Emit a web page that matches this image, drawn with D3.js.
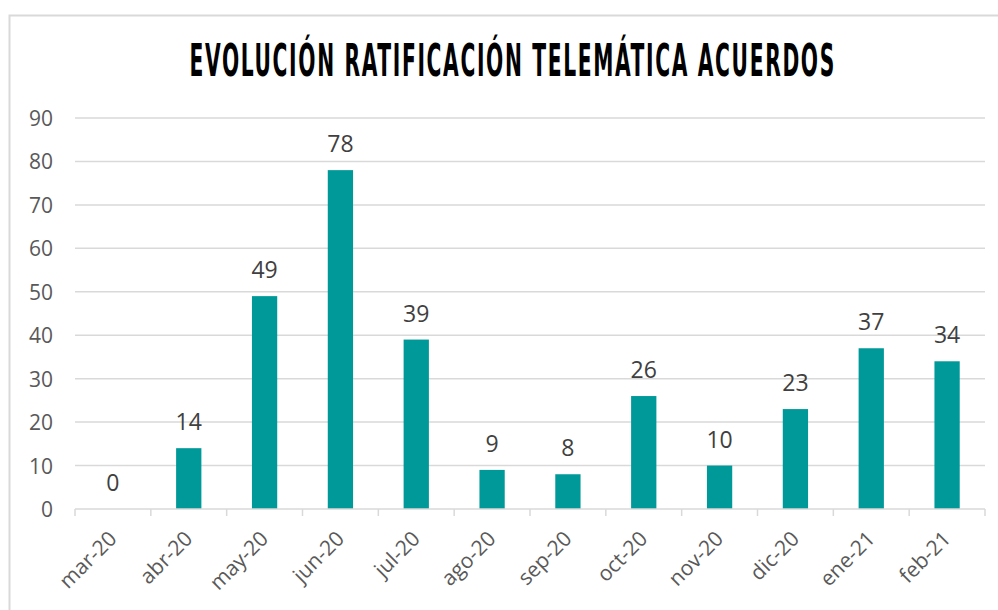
<!DOCTYPE html>
<html>
<head>
<meta charset="utf-8">
<script src="https://cdn.jsdelivr.net/npm/d3@7"></script>
<style>
  body { margin: 0; background: #fff; }
  svg { display: block; }
</style>
</head>
<body>
<svg width="998" height="610"></svg>
<script>
const months = ['mar-20','abr-20','may-20','jun-20','jul-20','ago-20','sep-20','oct-20','nov-20','dic-20','ene-21','feb-21'];
const counts = [0,14,49,78,39,9,8,26,10,23,37,34];
const yTicks = [0,10,20,30,40,50,60,70,80,90];
const chartTitle = 'EVOLUCIÓN RATIFICACIÓN TELEMÁTICA ACUERDOS';

const svg = d3.select('svg');
const plotL = 75, plotR = 985, plotT = 118, plotB = 509;
const labelFont = '"Open Sans", sans-serif';

// chart area border
svg.append('rect')
  .attr('x', 9.5).attr('y', 15.5).attr('width', 1100).attr('height', 700)
  .attr('fill', '#fff').attr('stroke', '#d9d9d9').attr('stroke-width', 2);

// title: condensed glyphs with wide spacing
const squeeze = 0.5, titleW = 645, titleCx = 512;
const titleG = svg.append('g');
const title = titleG.append('text')
  .attr('y', 76)
  .style('font-family', '"Liberation Sans Narrow", "DejaVu Sans Condensed", sans-serif')
  .style('font-weight', 'bold').style('font-size', '45px').style('fill', '#000')
  .text(chartTitle);
const natural = title.node().getComputedTextLength();
const ls = (titleW / squeeze - natural) / (chartTitle.length - 1);
title.style('letter-spacing', ls + 'px');
titleG.attr('transform', `translate(${titleCx - titleW / 2},0) scale(${squeeze},1)`);

const x = d3.scaleBand().domain(months).range([plotL, plotR]).paddingInner(2/3).paddingOuter(1/3);
const band = d3.scaleBand().domain(months).range([plotL, plotR]);
const y = d3.scaleLinear().domain([0, 90]).range([plotB, plotT]);

// gridlines
svg.append('g').selectAll('line').data(yTicks.filter(d => d > 0)).join('line')
  .attr('x1', plotL).attr('x2', plotR)
  .attr('y1', d => y(d)).attr('y2', d => y(d))
  .attr('stroke', '#d9d9d9').attr('stroke-width', 1.5);

// y labels
svg.append('g').selectAll('text').data(yTicks).join('text')
  .attr('x', 53).attr('y', d => y(d) + 8)
  .attr('text-anchor', 'end')
  .style('font-family', labelFont).style('font-size', '21px').style('fill', '#595959')
  .text(d => d);

// bars
svg.append('g').selectAll('rect').data(counts).join('rect')
  .attr('x', (d, i) => x(months[i]))
  .attr('width', x.bandwidth())
  .attr('y', d => y(d))
  .attr('height', d => plotB - y(d))
  .attr('fill', '#009999');

// data labels
svg.append('g').selectAll('text').data(counts).join('text')
  .attr('x', (d, i) => x(months[i]) + x.bandwidth() / 2)
  .attr('y', d => y(d) - 18)
  .attr('text-anchor', 'middle')
  .style('font-family', labelFont).style('font-size', '23px').style('fill', '#404040')
  .text(d => d);

// x axis line and ticks
const axis = svg.append('g');
axis.append('line').attr('x1', plotL).attr('x2', plotR).attr('y1', plotB).attr('y2', plotB)
  .attr('stroke', '#d9d9d9').attr('stroke-width', 1.5);
const bounds = months.map(m => band(m)).concat([plotR]);
axis.selectAll('.tk').data(bounds).join('line').attr('class', 'tk')
  .attr('x1', d => d).attr('x2', d => d).attr('y1', plotB).attr('y2', plotB + 7)
  .attr('stroke', '#d9d9d9').attr('stroke-width', 1.5);

axis.selectAll('text').data(months).join('text')
  .attr('transform', d => `translate(${band(d) + band.bandwidth() / 2 + 5},${plotB + 31}) rotate(-45)`)
  .attr('text-anchor', 'end')
  .style('font-family', labelFont).style('font-size', '21px').style('fill', '#595959')
  .text(d => d);
</script>
</body>
</html>
